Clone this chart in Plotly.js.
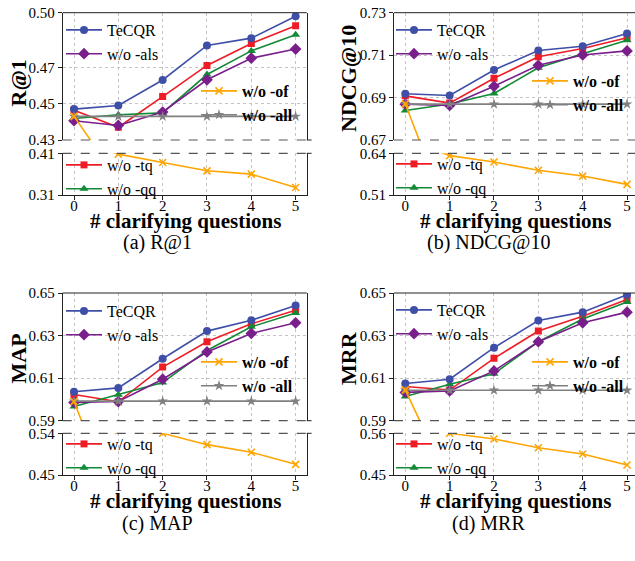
<!DOCTYPE html>
<html>
<head>
<meta charset="utf-8">
<script src="https://cdn.plot.ly/plotly-3.0.1.min.js"></script>
<style>html,body{margin:0;padding:0;background:#fff;}#chart{width:635px;height:561px;}</style>
</head>
<body>
<div id="chart"></div>
<script>
// ---------------- data ----------------
const questions = [0, 1, 2, 3, 4, 5];
const seriesNames = ['TeCQR', 'w/o -als', 'w/o -of', 'w/o -all', 'w/o -tq', 'w/o -qq'];
const metricLabels = ['R@1', 'NDCG@10', 'MAP', 'MRR'];
const captions = ['(a) R@1', '(b) NDCG@10', '(c) MAP', '(d) MRR'];
const xTitle = '# clarifying questions';

// R@1
const r1_tecqr = [0.447, 0.449, 0.463, 0.482, 0.486, 0.498];
const r1_als   = [0.4406, 0.438, 0.4454, 0.4631, 0.475, 0.480];
const r1_of    = [0.443, 0.408, 0.388, 0.368, 0.360, 0.328];
const r1_all   = [0.443, 0.443, 0.443, 0.443, 0.443, 0.443];
const r1_tq    = [0.4464, 0.437, 0.4539, 0.471, 0.4831, 0.4928];
const r1_qq    = [0.4418, 0.4439, 0.4449, 0.466, 0.479, 0.4879];
// NDCG@10
const nd_tecqr = [0.6918, 0.691, 0.703, 0.7122, 0.7142, 0.7202];
const nd_als   = [0.6869, 0.6863, 0.6953, 0.7052, 0.7101, 0.712];
const nd_of    = [0.687, 0.6327, 0.613, 0.587, 0.569, 0.543];
const nd_all   = [0.6869, 0.6869, 0.6869, 0.6869, 0.6869, 0.6869];
const nd_tq    = [0.6908, 0.6874, 0.6991, 0.7092, 0.7131, 0.7182];
const nd_qq    = [0.6839, 0.687, 0.6919, 0.704, 0.7107, 0.717];
// MAP
const map_tecqr = [0.6036, 0.6054, 0.6191, 0.6321, 0.6372, 0.6441];
const map_als   = [0.5986, 0.599, 0.6095, 0.6223, 0.631, 0.636];
const map_of    = [0.599, 0.546, 0.540, 0.5155, 0.499, 0.473];
const map_all   = [0.5992, 0.5992, 0.5992, 0.5992, 0.5992, 0.5992];
const map_tq    = [0.6023, 0.5989, 0.6152, 0.6271, 0.6355, 0.6419];
const map_qq    = [0.5967, 0.6022, 0.6079, 0.623, 0.6341, 0.6406];
// MRR
const mrr_tecqr = [0.6075, 0.6095, 0.6243, 0.6371, 0.641, 0.6492];
const mrr_als   = [0.6033, 0.604, 0.6134, 0.6271, 0.636, 0.641];
const mrr_of    = [0.6045, 0.56, 0.545, 0.522, 0.5054, 0.4764];
const mrr_all   = [0.6043, 0.6043, 0.6043, 0.6043, 0.6043, 0.6043];
const mrr_tq    = [0.6061, 0.6044, 0.6193, 0.6321, 0.6391, 0.6469];
const mrr_qq    = [0.6014, 0.6071, 0.6121, 0.6271, 0.6378, 0.6458];

// y ticks (upper and lower part of each broken axis)
const upperTicks = [[0.43, 0.45, 0.47, 0.50], [0.67, 0.69, 0.71, 0.73], [0.59, 0.61, 0.63, 0.65], [0.59, 0.61, 0.63, 0.65]];
const lowerTicks = [[0.31, 0.41], [0.51, 0.64], [0.45, 0.54], [0.45, 0.56]];

const panelData = [
  [r1_tecqr, r1_als, r1_of, r1_all, r1_tq, r1_qq],
  [nd_tecqr, nd_als, nd_of, nd_all, nd_tq, nd_qq],
  [map_tecqr, map_als, map_of, map_all, map_tq, map_qq],
  [mrr_tecqr, mrr_als, mrr_of, mrr_all, mrr_tq, mrr_qq]
];

// ---------------- styles / layout ----------------
const W = 635, H = 561;
const SERIF = 'Liberation Serif, Times New Roman, serif';
const styles = [
  {color: '#3F4FA8', symbol: 'circle', size: 8},
  {color: '#7A1E8C', symbol: 'diamond', size: 9},
  {color: '#FFA500', symbol: 'x-thin', size: 7},
  {color: '#808080', symbol: 'star', size: 8},
  {color: '#EE1C25', symbol: 'square', size: 7},
  {color: '#138A36', symbol: 'triangle-up', size: 8}
];
// legend grouping: 0 = top-left group, 1 = middle-right group, 2 = bottom-left group
const legendGroupOf = [0, 0, 1, 1, 2, 2];
const drawOrder = [4, 5, 0, 1, 3, 2];

// pixel geometry of panels
const geo = [
  {x: [62.7, 306.7], xr: [-0.255, 5.25], up: [12.7, 140], lo: [153.3, 195], mirror: true,
   legends: [[66, 28], [201, 89], [66, 163]], ytitle: [17.5, 83], xt: [185, 221], cap: [157, 242]},
  {x: [394, 635], xr: [-0.255, 5.18], up: [12.7, 140], lo: [153.3, 195], mirror: false,
   legends: [[396, 28], [532, 79], [396, 162]], ytitle: [348, 79], xt: [515, 221], cap: [488, 242]},
  {x: [62.7, 306.7], xr: [-0.255, 5.25], up: [293, 420.7], lo: [433.3, 475], mirror: true,
   legends: [[66, 309], [201, 360], [66, 442]], ytitle: [17.5, 359], xt: [185, 501], cap: [157, 523]},
  {x: [394, 635], xr: [-0.255, 5.18], up: [293, 420.7], lo: [433.3, 475], mirror: false,
   legends: [[396, 308], [532, 360], [396, 442]], ytitle: [348, 358], xt: [515, 501], cap: [488, 523]}
];

const px2x = p => p / W;
const py2y = p => (H - p) / H;

const traces = [];
const layout = {
  width: W, height: H,
  margin: {l: 0, r: 0, t: 0, b: 0},
  paper_bgcolor: '#fff', plot_bgcolor: '#fff',
  font: {family: SERIF, size: 15, color: '#000'},
  shapes: [], annotations: []
};

const LEG_DX = 5, LEG_DY = 15;
let legendIdx = 0;

geo.forEach((g, p) => {
  const xn = p + 1;
  const xid = xn === 1 ? 'x' : 'x' + xn;
  const yu = 2 * p + 1, yl = 2 * p + 2;
  const yuid = yu === 1 ? 'y' : 'y' + yu;
  const ylid = 'y' + yl;
  const yrUp = [upperTicks[p][0], upperTicks[p][upperTicks[p].length - 1]];
  const yrLo = [lowerTicks[p][0], lowerTicks[p][lowerTicks[p].length - 1]];

  const axLine = {showline: true, linecolor: '#222', linewidth: 1, ticks: 'outside', ticklen: 4,
    tickcolor: '#222', tickwidth: 1, showgrid: true, gridcolor: '#c4c4c4', griddash: 'dot', gridwidth: 1,
    zeroline: false, tickfont: {family: SERIF, size: 15, color: '#000'}};

  layout['xaxis' + (xn === 1 ? '' : xn)] = Object.assign({}, axLine, {
    domain: [px2x(g.x[0]), px2x(g.x[1])], range: g.xr, anchor: ylid,
    tickvals: questions, ticktext: questions.map(String), mirror: false, ticklabelstandoff: -7
  });
  layout['yaxis' + (yu === 1 ? '' : yu)] = Object.assign({}, axLine, {
    domain: [py2y(g.up[1]), py2y(g.up[0])], range: yrUp, anchor: xid,
    tickvals: upperTicks[p], tickformat: '.2f', mirror: g.mirror
  });
  layout['yaxis' + yl] = Object.assign({}, axLine, {
    domain: [py2y(g.lo[1]), py2y(g.lo[0])], range: yrLo, anchor: xid,
    tickvals: lowerTicks[p], tickformat: '.2f', mirror: g.mirror
  });

  // legends for this panel
  const legIds = [];
  g.legends.forEach((lp, k) => {
    legendIdx++;
    const id = legendIdx === 1 ? 'legend' : 'legend' + legendIdx;
    legIds.push(id);
    layout[id] = {
      x: px2x(lp[0] - LEG_DX), y: py2y(lp[1] - LEG_DY), xanchor: 'left', yanchor: 'top',
      bgcolor: 'rgba(0,0,0,0)', borderwidth: 0, tracegroupgap: 0, itemwidth: 36,
      font: {family: SERIF, size: 16, color: '#000', weight: k === 1 ? 'bold' : 'normal'}
    };
  });

  // traces: each series on upper and lower part
  drawOrder.forEach(s => {
    const st = styles[s];
    const grp = legendGroupOf[s];
    const base = {
      type: 'scatter', mode: 'lines+markers', x: questions, y: panelData[p][s], name: seriesNames[s],
      xaxis: xid, cliponaxis: true,
      line: {color: st.color, width: 1.6},
      marker: {symbol: st.symbol, size: st.size, color: st.color,
        line: {color: st.color, width: st.symbol === 'x-thin' ? 1.6 : 0}}
    };
    const legendOnLower = grp === 2;
    traces.push(Object.assign({}, base, {yaxis: yuid, legend: legIds[grp], showlegend: !legendOnLower}));
    traces.push(Object.assign({}, base, {yaxis: ylid, legend: legIds[grp], showlegend: legendOnLower}));
  });
  // shapes: top frame, dashed break lines, right stubs
  const xd = xid + ' domain';
  layout.shapes.push({type: 'line', xref: xd, yref: yuid + ' domain', x0: 0, x1: 1, y0: 1, y1: 1,
    line: {color: '#222', width: 1}});
  layout.shapes.push({type: 'line', xref: xd, yref: yuid + ' domain', x0: 0, x1: 1, y0: 0, y1: 0,
    line: {color: '#555', width: 1.2, dash: 'dash'}});
  layout.shapes.push({type: 'line', xref: xd, yref: ylid + ' domain', x0: 0, x1: 1, y0: 1, y1: 1,
    line: {color: '#555', width: 1.2, dash: 'dash'}});
  if (g.mirror) {
    layout.shapes.push({type: 'line', xref: xd, yref: yuid + ' domain', x0: 1, x1: 1.02, y0: 0, y1: 0,
      line: {color: '#222', width: 1}});
    layout.shapes.push({type: 'line', xref: xd, yref: ylid + ' domain', x0: 1, x1: 1.02, y0: 1, y1: 1,
      line: {color: '#222', width: 1}});
  }

  // titles & captions
  layout.annotations.push({text: '<b>' + metricLabels[p] + '</b>', xref: 'paper', yref: 'paper',
    x: px2x(g.ytitle[0]), y: py2y(g.ytitle[1]), xanchor: 'center', yanchor: 'middle', textangle: -90,
    showarrow: false, font: {family: SERIF, size: 22, color: '#000'}});
  layout.annotations.push({text: '<b>' + xTitle + '</b>', xref: 'paper', yref: 'paper',
    x: px2x(g.xt[0]), y: py2y(g.xt[1]), xanchor: 'center', yanchor: 'middle',
    showarrow: false, font: {family: SERIF, size: 21, color: '#000'}});
  layout.annotations.push({text: captions[p], xref: 'paper', yref: 'paper',
    x: px2x(g.cap[0]), y: py2y(g.cap[1]), xanchor: 'center', yanchor: 'middle',
    showarrow: false, font: {family: SERIF, size: 20, color: '#000'}});
});

// legend order inside each legend follows series order
traces.forEach(t => { t.legendrank = seriesNames.indexOf(t.name) + 1; });

Plotly.newPlot('chart', traces, layout, {displayModeBar: false, staticPlot: true});
</script>
</body>
</html>
